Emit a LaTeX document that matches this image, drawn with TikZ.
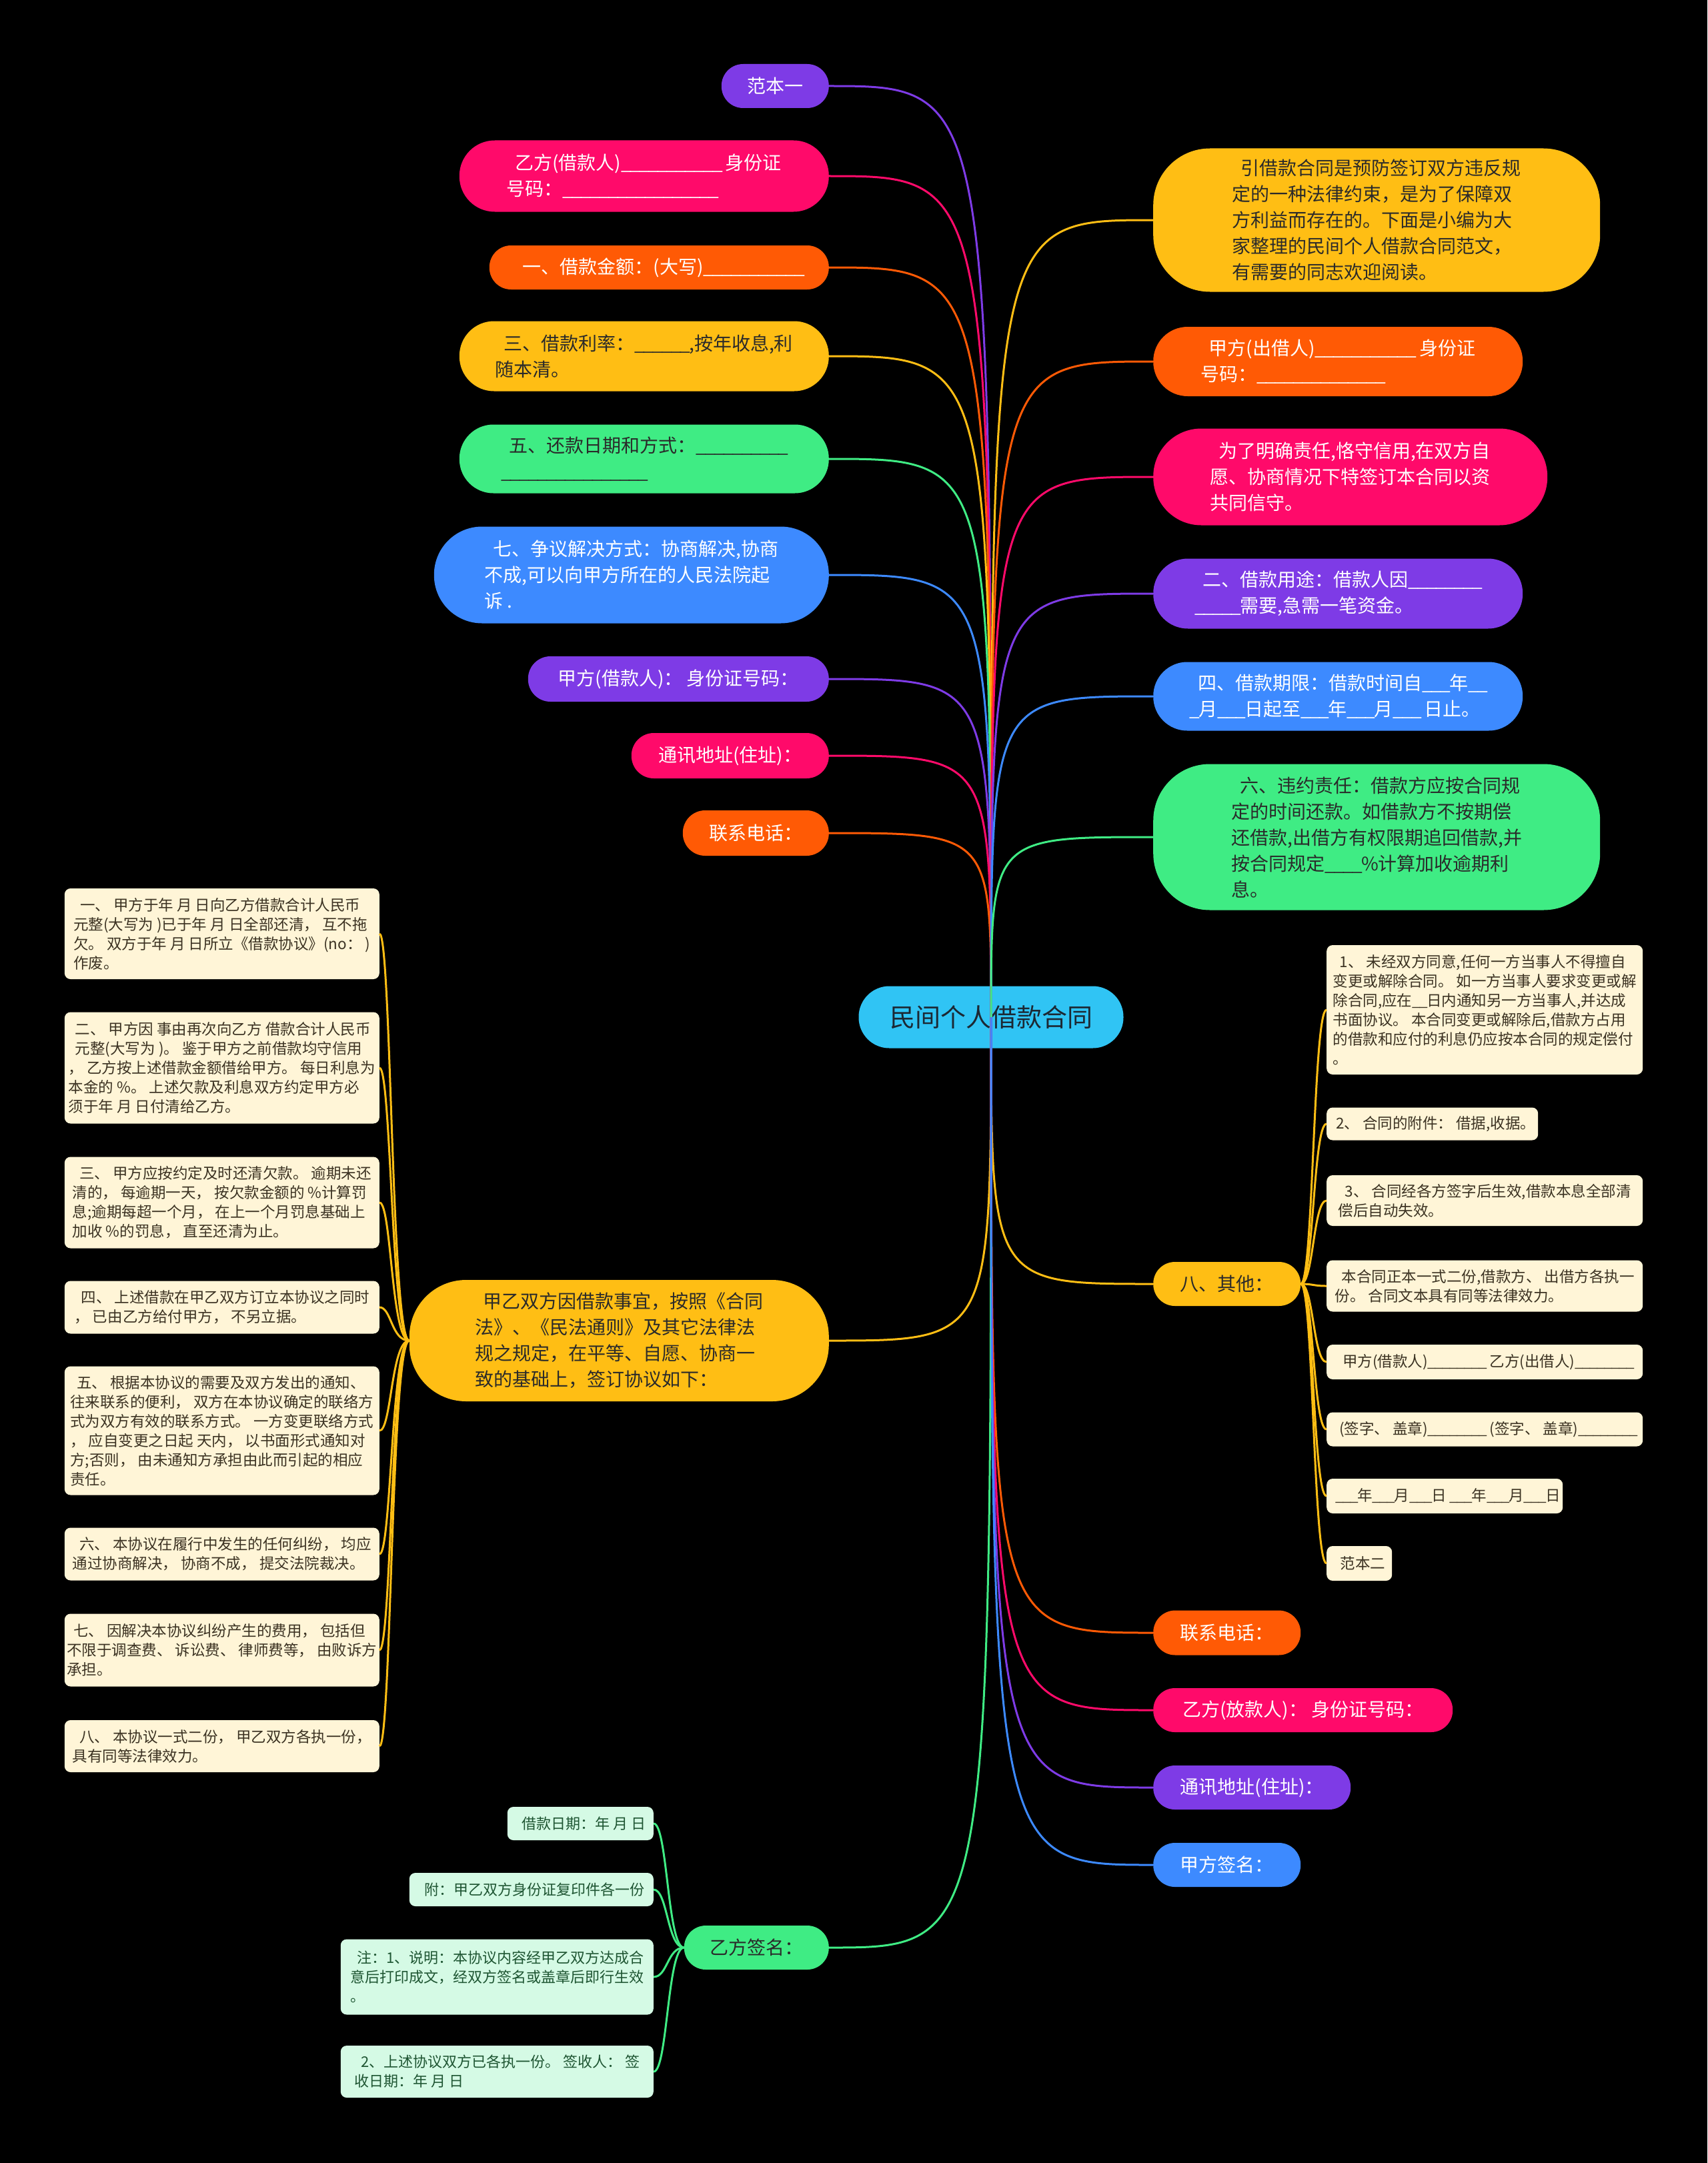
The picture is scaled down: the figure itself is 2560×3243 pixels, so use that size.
\documentclass[tikz,border=0pt]{standalone}
\usepackage{fontspec}
\setmainfont{Noto Sans CJK SC}
\newfontfamily\cjk{Noto Sans CJK SC}
\usetikzlibrary{calc}
\ExplSyntaxOn
\cs_new:Npn \ublank #1 {\prg_replicate:nn{#1}{\_\kern-0.07em\relax}}
\ExplSyntaxOff
\newcommand\ld{\hspace*{0.45em}}
\definecolor{cpur}{HTML}{7E3BE6}
\definecolor{cpink}{HTML}{FF0A6A}
\definecolor{corg}{HTML}{FF5A05}
\definecolor{cyel}{HTML}{FFBE14}
\definecolor{cgrn}{HTML}{3FEC84}
\definecolor{cblu}{HTML}{3D8AFF}
\definecolor{ccya}{HTML}{30C4F4}
\definecolor{ccream}{HTML}{FFF5D7}
\definecolor{cmint}{HTML}{D5FAE5}
\definecolor{tdark}{HTML}{2A2A2A}
\definecolor{tnavy}{HTML}{1C2833}
\definecolor{tbrown}{HTML}{3B3222}
\definecolor{tgreen}{HTML}{1E5532}
\tikzset{
  pill/.style n args={3}{inner sep=0pt, align=left, font=\cjk\fontsize{28}{39}\selectfont, fill=#1, minimum width=#2, minimum height=#3, rounded corners={min(0.5*#3-0.5,85)}},
  wt/.style={text=white},
  dk/.style={text=tdark},
  lb/.style={anchor=east},
  rb/.style={anchor=west},
  leaf/.style n args={2}{inner sep=0pt, align=left, font=\cjk\fontsize{22.5}{29}\selectfont, fill=ccream, text=tbrown, minimum width=#1, minimum height=#2, rounded corners=9},
  mleaf/.style n args={2}{inner sep=0pt, align=left, font=\cjk\fontsize{22}{29}\selectfont, fill=cmint, text=tgreen, minimum width=#1, minimum height=#2, rounded corners=9},
  conn/.style={line width=3pt},
  sconn/.style={line width=3pt},
}
\begin{document}
\begin{tikzpicture}[x=1pt,y=-1pt]
\useasboundingbox[fill=black] (0,0) rectangle (2560,3243);
% left branches
\node[pill={cpur}{161}{66}, wt, lb] (fb1) at (1243,129) {范本一};
\node[pill={cpink}{554}{107}, wt, lb] (yfj) at (1243,264) {\ld 乙方(借款人)\ublank{11} 身份证\\号码：\ublank{17}};
\node[pill={corg}{509}{66}, wt, lb] (jkje) at (1243,401) {\ld 一、借款金额：(大写)\ublank{11}};
\node[pill={cyel}{554}{105}, dk, lb] (jkll) at (1243,534) {\ld 三、借款利率：\ublank{6},按年收息,利\\随本清。};
\node[pill={cgrn}{554}{103}, dk, lb] (hkrq) at (1243,688) {\ld 五、还款日期和方式：\ublank{10}\\\ublank{16}};
\node[pill={cblu}{592}{145}, wt, lb] (zyjj) at (1243,862) {\ld 七、争议解决方式：协商解决,协商\\不成,可以向甲方所在的人民法院起\\诉 .};
\node[pill={cpur}{451}{68}, wt, lb] (jfjk) at (1243,1018) {甲方(借款人)： 身份证号码：};
\node[pill={cpink}{296}{68}, wt, lb] (txdz1) at (1243,1133) {通讯地址(住址)：};
\node[pill={corg}{219}{68}, wt, lb] (lxdh1) at (1243,1249) {联系电话：};
% center
\node[pill={ccya}{397}{93}, font=\cjk\fontsize{38}{46}\selectfont, text=tnavy] (ctr) at (1486,1525) {民间个人借款合同};
% right branches
\node[pill={cyel}{670}{215}, dk, rb] (intro) at (1729,330) {\ld 引借款合同是预防签订双方违反规\\定的一种法律约束，是为了保障双\\方利益而存在的。下面是小编为大\\家整理的民间个人借款合同范文，\\有需要的同志欢迎阅读。};
\node[pill={corg}{554}{104}, wt, rb] (jfcj) at (1729,542) {\ld 甲方(出借人)\ublank{11} 身份证\\号码：\ublank{14}};
\node[pill={cpink}{591}{145}, wt, rb] (wlmq) at (1729,715) {\ld 为了明确责任,恪守信用,在双方自\\愿、协商情况下特签订本合同以资\\共同信守。};
\node[pill={cpur}{554}{105}, wt, rb] (jkyt) at (1729,890) {\ld 二、借款用途：借款人因\ublank{8}\\\ublank{5}需要,急需一笔资金。};
\node[pill={cblu}{554}{103}, wt, rb] (jkqx) at (1729,1044) {\ld 四、借款期限：借款时间自\ublank{3}年\ublank{2}\\\ublank{1}月\ublank{3}日起至\ublank{3}年\ublank{3}月\ublank{3} 日止。};
\node[pill={cgrn}{670}{219}, dk, rb] (wyzr) at (1729,1255) {\ld 六、违约责任：借款方应按合同规\\定的时间还款。如借款方不按期偿\\还借款,出借方有权限期追回借款,并\\按合同规定\ublank{4}\%计算加收逾期利\\息。};
\node[pill={cyel}{221}{66}, dk, rb] (qt) at (1729,1925) {八、其他：};
\node[pill={corg}{221}{67}, wt, rb] (lxdh2) at (1729,2448) {联系电话：};
\node[pill={cpink}{449}{66}, wt, rb] (yffk) at (1729,2564) {乙方(放款人)： 身份证号码：};
\node[pill={cpur}{296}{66}, wt, rb] (txdz2) at (1729,2680) {通讯地址(住址)：};
\node[pill={cblu}{221}{66}, wt, rb] (jfqm) at (1729,2796) {甲方签名：};
% right leaves
\node[leaf={474}{194}, rb] (r1) at (1989,1514) {\ld 1、 未经双方同意,任何一方当事人不得擅自\\变更或解除合同。 如一方当事人要求变更或解\\除合同,应在\ublank{2}日内通知另一方当事人,并达成\\书面协议。 本合同变更或解除后,借款方占用\\的借款和应付的利息仍应按本合同的规定偿付\\。};
\node[leaf={317}{49}, rb] (r2) at (1989,1685) {\ld 2、 合同的附件： 借据,收据。};
\node[leaf={474}{76}, rb] (r3) at (1989,1800) {\ld 3、 合同经各方签字后生效,借款本息全部清\\偿后自动失效。};
\node[leaf={474}{77}, rb] (r4) at (1989,1928) {\ld 本合同正本一式二份,借款方、 出借方各执一\\份。 合同文本具有同等法律效力。};
\node[leaf={474}{52}, rb] (r5) at (1989,2042) {\ld 甲方(借款人)\ublank{8} 乙方(出借人)\ublank{8}};
\node[leaf={474}{51}, rb] (r6) at (1989,2143) {\ld (签字、 盖章)\ublank{8} (签字、 盖章)\ublank{8}};
\node[leaf={354}{52}, rb] (r7) at (1989,2243) {\ld \ublank{3}年\ublank{3}月\ublank{3}日 \ublank{3}年\ublank{3}月\ublank{3}日};
\node[leaf={98}{52}, rb] (r8) at (1989,2344) {\ld 范本二};
% left lower
\node[pill={cyel}{629}{182}, dk, lb] (jyxy) at (1243,2010) {\ld 甲乙双方因借款事宜，按照《合同\\法》、《民法通则》及其它法律法\\规之规定，在平等、自愿、协商一\\致的基础上，签订协议如下：};
\node[leaf={472}{136}, lb] (l1) at (569,1400) {\ld 一、 甲方于年 月 日向乙方借款合计人民币\\元整(大写为 )已于年 月 日全部还清， 互不拖\\欠。 双方于年 月 日所立《借款协议》(no： )\\作废。};
\node[leaf={472}{167}, lb] (l2) at (569,1601) {\ld 二、 甲方因 事由再次向乙方 借款合计人民币\\\ld 元整(大写为 )。 鉴于甲方之前借款均守信用\\， 乙方按上述借款金额借给甲方。 每日利息为\\本金的 \%。 上述欠款及利息双方约定甲方必\\须于年 月 日付清给乙方。};
\node[leaf={472}{137}, lb] (l3) at (569,1803) {\ld 三、 甲方应按约定及时还清欠款。 逾期未还\\清的， 每逾期一天， 按欠款金额的 \%计算罚\\息;逾期每超一个月， 在上一个月罚息基础上\\加收 \%的罚息， 直至还清为止。};
\node[leaf={472}{79}, lb] (l4) at (569,1960) {\ld 四、 上述借款在甲乙双方订立本协议之同时\\， 已由乙方给付甲方， 不另立据。};
\node[leaf={472}{193}, lb] (l5) at (569,2145) {\ld 五、 根据本协议的需要及双方发出的通知、\\往来联系的便利， 双方在本协议确定的联络方\\式为双方有效的联系方式。 一方变更联络方式\\， 应自变更之日起 天内， 以书面形式通知对\\方;否则， 由未通知方承担由此而引起的相应\\责任。};
\node[leaf={472}{79}, lb] (l6) at (569,2330) {\ld 六、 本协议在履行中发生的任何纠纷， 均应\\通过协商解决， 协商不成， 提交法院裁决。};
\node[leaf={472}{109}, lb] (l7) at (569,2474) {\ld 七、 因解决本协议纠纷产生的费用， 包括但\\不限于调查费、 诉讼费、 律师费等， 由败诉方\\承担。};
\node[leaf={472}{78}, lb] (l8) at (569,2618) {\ld 八、 本协议一式二份， 甲乙双方各执一份，\\具有同等法律效力。};
\node[pill={cgrn}{217}{66}, dk, lb] (yfqm) at (1243,2920) {乙方签名：};
\node[mleaf={219}{50}, lb] (g1) at (980,2734) {\ld 借款日期：年 月 日};
\node[mleaf={366}{50}, lb] (g2) at (980,2833) {\ld 附：甲乙双方身份证复印件各一份};
\node[mleaf={469}{113}, lb] (g3) at (980,2964) {\ld 注：1、说明：本协议内容经甲乙双方达成合\\意后打印成文，经双方签名或盖章后即行生效\\。};
\node[mleaf={469}{78}, lb] (g4) at (980,3106) {\ld 2、上述协议双方已各执一份。 签收人： 签\\收日期：年 月 日};
% connectors
\foreach \n/\c in {fb1/cpur,yfj/cpink,jkje/corg,jkll/cyel,hkrq/cgrn,zyjj/cblu,jfjk/cpur,txdz1/cpink,lxdh1/corg,jyxy/cyel,yfqm/cgrn}
  \draw[conn,draw=\c] (ctr.center) .. controls (ctr.center |- \n.east) .. (\n.east);
\foreach \n/\c in {intro/cyel,jfcj/corg,wlmq/cpink,jkyt/cpur,jkqx/cblu,wyzr/cgrn,qt/cyel,lxdh2/corg,yffk/cpink,txdz2/cpur,jfqm/cblu}
  \draw[conn,draw=\c] (ctr.center) .. controls (ctr.center |- \n.west) .. (\n.west);
\foreach \n in {r1,r2,r3,r4,r5,r6,r7,r8}
  \draw[sconn,draw=cyel] (qt.east) .. controls ($(qt.east)+(19,0)$) and ($(\n.west)+(-20,0)$) .. (\n.west);
\foreach \n in {l1,l2,l3,l4,l5,l6,l7,l8}
  \draw[sconn,draw=cyel] (jyxy.west) .. controls ($(jyxy.west)+(-27,0)$) and ($(\n.east)+(18,0)$) .. (\n.east);
\foreach \n in {g1,g2,g3,g4}
  \draw[sconn,draw=cgrn] (yfqm.west) .. controls ($(yfqm.west)+(-25,0)$) and ($(\n.east)+(21,0)$) .. (\n.east);
\end{tikzpicture}
\end{document}
